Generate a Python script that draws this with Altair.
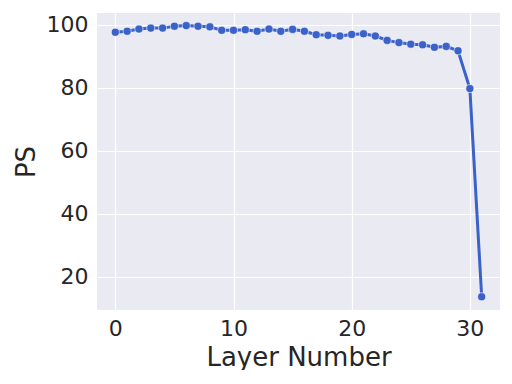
import altair as alt
import pandas as pd

layers = list(range(32))
ps = [97.7, 98.0, 98.7, 99.0, 99.0, 99.6, 99.8, 99.6, 99.4, 98.3,
      98.3, 98.5, 98.0, 98.7, 98.0, 98.6, 98.0, 96.9, 96.7, 96.5,
      97.0, 97.2, 96.5, 95.1, 94.4, 93.9, 93.7, 92.9, 93.2, 91.8,
      79.8, 13.7]

df = pd.DataFrame({"layer": layers, "ps": ps})
color = "#3a62c9"

x = alt.X("layer:Q", title="Layer Number",
          scale=alt.Scale(domain=[-1.55, 32.55], nice=False, zero=False),
          axis=alt.Axis(values=[0, 10, 20, 30], grid=True))
y = alt.Y("ps:Q", title="PS",
          scale=alt.Scale(domain=[9.5, 103.8], nice=False, zero=False),
          axis=alt.Axis(values=[20, 40, 60, 80, 100], grid=True))

line = alt.Chart(df).mark_line(color=color, strokeWidth=3, clip=True).encode(x=x, y=y)
pts = alt.Chart(df).mark_point(filled=True, color=color, size=65, opacity=1,
                               stroke="white", strokeWidth=0.6).encode(x=x, y=y)

chart = (line + pts).properties(
    width=403, height=297,
    autosize=alt.AutoSizeParams(type="none"),
    padding={"left": 89, "top": 5, "right": 4, "bottom": 60},
    background="white",
).configure_view(
    fill="#EAEAF2", stroke=None
).configure_axis(
    domain=False, ticks=False, gridColor="white", gridWidth=1.2,
    labelFont="DejaVu Sans", labelFontSize=22, labelColor="#262626",
    titleFont="DejaVu Sans", titleFontSize=26, titleColor="#262626",
    titleFontWeight="normal"
).configure_axisX(
    labelPadding=8, titlePadding=5
).configure_axisY(
    labelPadding=9, titlePadding=7
)

chart.save("out.html", embed_options={"renderer": "svg", "actions": False})
